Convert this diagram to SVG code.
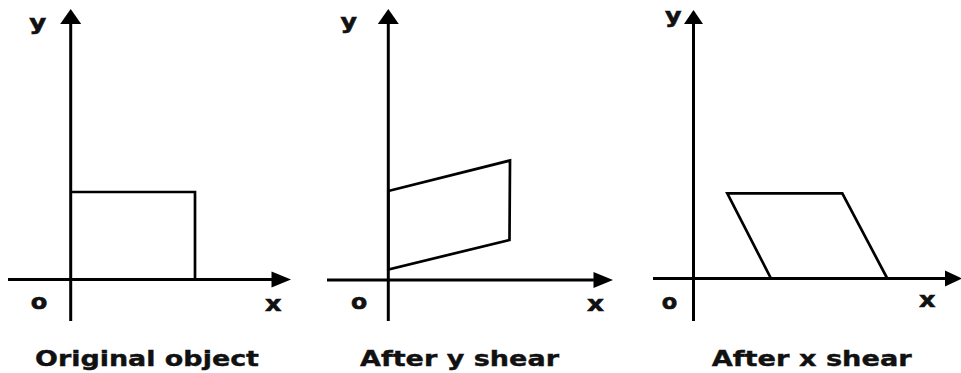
<svg xmlns="http://www.w3.org/2000/svg" width="961" height="373" viewBox="0 0 961 373">
<style>
.axis{stroke:#000;stroke-width:3;fill:none}
.shape{stroke:#000;stroke-width:2.7;fill:none;stroke-linejoin:miter}
.head{fill:#000}
.lbl{font-family:"DejaVu Sans",Verdana,sans-serif;font-weight:bold;font-size:21px;fill:#111;stroke:#111;stroke-width:0.6}
.cap{font-family:"DejaVu Sans",Verdana,sans-serif;font-weight:bold;font-size:22px;fill:#111;stroke:#111;stroke-width:0.4}
</style>
<rect width="961" height="373" fill="#fff"/>
<g id="panel-original">
  <g id="axes1">
    <line class="axis" x1="70.7" y1="22" x2="70.7" y2="321"/>
    <polygon class="head" points="70.7,9 60.2,24 81.2,24"/>
    <line class="axis" x1="8" y1="279.5" x2="274" y2="279.5"/>
    <polygon class="head" points="291,279.5 271.5,271.5 271.5,287.5"/>
  </g>
  <polyline class="shape" points="70.7,192 195,192 195,279.5"/>
  <text class="lbl" x="29.3" y="30" textLength="17" lengthAdjust="spacingAndGlyphs">y</text>
  <text class="lbl" x="30.7" y="308.5" textLength="16.6" lengthAdjust="spacingAndGlyphs">o</text>
  <text class="lbl" x="265" y="311" textLength="16.5" lengthAdjust="spacingAndGlyphs">x</text>
  <text class="cap" x="35" y="366" textLength="224" lengthAdjust="spacingAndGlyphs">Original object</text>
</g>
<g id="panel-yshear">
  <g id="axes2">
    <line class="axis" x1="388.3" y1="22" x2="388.3" y2="321"/>
    <polygon class="head" points="388.3,9 377.8,24 398.8,24"/>
    <line class="axis" x1="327" y1="280" x2="596" y2="280"/>
    <polygon class="head" points="613,280 593.5,272 593.5,288"/>
  </g>
  <polygon class="shape" points="388.3,191 510,160.5 509.5,240 388.3,269.5"/>
  <text class="lbl" x="340.5" y="29" textLength="16.5" lengthAdjust="spacingAndGlyphs">y</text>
  <text class="lbl" x="351" y="308.5" textLength="16.2" lengthAdjust="spacingAndGlyphs">o</text>
  <text class="lbl" x="587" y="311" textLength="17" lengthAdjust="spacingAndGlyphs">x</text>
  <text class="cap" x="360" y="366" textLength="199" lengthAdjust="spacingAndGlyphs">After y shear</text>
</g>
<g id="panel-xshear">
  <g id="axes3">
    <line class="axis" x1="693.5" y1="22" x2="693.5" y2="321"/>
    <polygon class="head" points="693.5,10 684,24 703,24"/>
    <line class="axis" x1="653" y1="278.5" x2="947" y2="278.5"/>
    <polygon class="head" points="962,278.5 945,270.5 945,286.5"/>
  </g>
  <polygon class="shape" points="727.3,193.3 842.3,193.3 887.3,278.5 771,278.5"/>
  <text class="lbl" x="665" y="23" textLength="16.5" lengthAdjust="spacingAndGlyphs">y</text>
  <text class="lbl" x="661.7" y="308.5" textLength="15.5" lengthAdjust="spacingAndGlyphs">o</text>
  <text class="lbl" x="919" y="307" textLength="16.5" lengthAdjust="spacingAndGlyphs">x</text>
  <text class="cap" x="711.7" y="366" textLength="200" lengthAdjust="spacingAndGlyphs">After x shear</text>
</g>
</svg>
